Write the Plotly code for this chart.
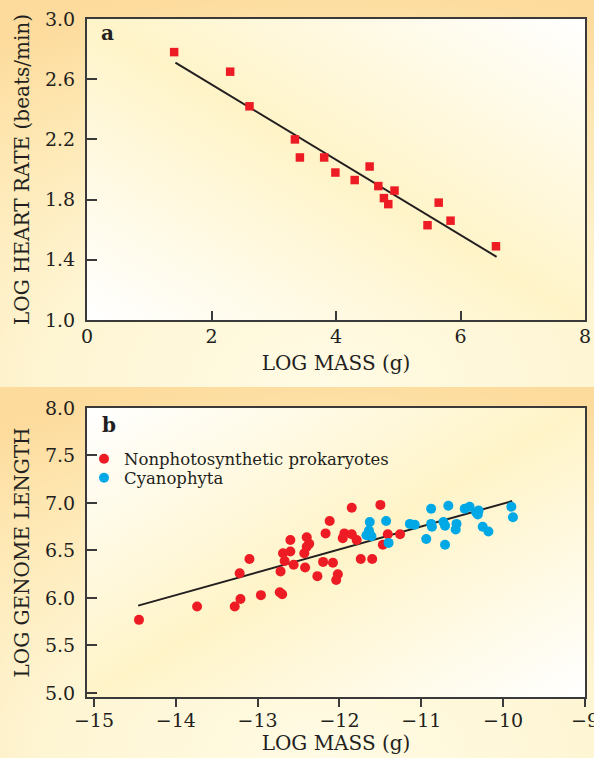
import base64
import plotly.graph_objects as go

# ---------------- Panel a data ----------------
mass_a = [1.40, 2.30, 2.61, 3.34, 3.42, 3.81, 3.99, 4.30, 4.54, 4.68,
          4.77, 4.84, 4.94, 5.47, 5.65, 5.84, 6.57]
heart_rate = [2.78, 2.65, 2.42, 2.20, 2.08, 2.08, 1.98, 1.93, 2.02, 1.89,
              1.81, 1.77, 1.86, 1.63, 1.78, 1.66, 1.49]
fit_a_x = [1.42, 6.58]
fit_a_y = [2.71, 1.42]

# ---------------- Panel b data ----------------
prok_mass = [-14.45, -13.74, -13.28, -13.21, -13.22, -13.10, -12.96, -12.73, -12.70, -12.72,
             -12.67, -12.69, -12.60, -12.60, -12.56, -12.42, -12.43, -12.40, -12.37, -12.40,
             -12.27, -12.20, -12.17, -12.12, -12.08, -12.02, -12.04, -11.96, -11.94, -11.85,
             -11.85, -11.79, -11.74, -11.60, -11.50, -11.47, -11.41, -11.26]
prok_genome = [5.77, 5.91, 5.91, 5.99, 6.26, 6.41, 6.03, 6.06, 6.04, 6.28,
               6.39, 6.47, 6.49, 6.61, 6.35, 6.32, 6.47, 6.54, 6.57, 6.64,
               6.23, 6.38, 6.68, 6.81, 6.37, 6.25, 6.19, 6.63, 6.68, 6.67,
               6.95, 6.61, 6.41, 6.41, 6.98, 6.56, 6.67, 6.67]
cyano_mass = [-11.63, -11.64, -11.63, -11.67, -11.61, -11.43, -11.40, -11.14, -11.08, -10.94,
              -10.88, -10.88, -10.87, -10.71, -10.67, -10.73, -10.71, -10.57, -10.58, -10.47,
              -10.41, -10.33, -10.30, -10.31, -10.25, -10.18, -9.90, -9.88]
cyano_genome = [6.80, 6.71, 6.67, 6.66, 6.65, 6.81, 6.58, 6.78, 6.77, 6.62,
                6.94, 6.78, 6.75, 6.56, 6.97, 6.80, 6.76, 6.78, 6.72, 6.94,
                6.96, 6.90, 6.92, 6.88, 6.75, 6.70, 6.96, 6.85]
fit_b_x = [-14.46, -9.89]
fit_b_y = [5.92, 7.02]

# tick values
ticks_a_x = [0, 2, 4, 6, 8]
ticks_a_y = [1.0, 1.4, 1.8, 2.2, 2.6, 3.0]
ticks_b_x = [-15, -14, -13, -12, -11, -10, -9]
ticks_b_y = [5.0, 5.5, 6.0, 6.5, 7.0, 7.5, 8.0]

RED = "#ed1c24"
BLUE = "#00a9e6"
INK = "#231f20"
AXC = "#3a3a3a"


def svg_uri(svg):
    return "data:image/svg+xml;base64," + base64.b64encode(svg.encode()).decode()


outer_svg = (
    '<svg xmlns="http://www.w3.org/2000/svg" width="100" height="100" viewBox="0 0 100 100" '
    'preserveAspectRatio="none"><defs><radialGradient id="g" cx="0.55" cy="1.0" r="1.05" '
    'gradientUnits="objectBoundingBox">'
    '<stop offset="0" stop-color="#fffbe4"/><stop offset="0.45" stop-color="#fef5d3"/>'
    '<stop offset="0.8" stop-color="#fee6b0"/><stop offset="1" stop-color="#fddb9c"/>'
    '</radialGradient></defs><rect x="0" y="0" width="100" height="100" fill="url(#g)"/></svg>'
)


def band_svg(x1, y1, x2, y2):
    return (
        '<svg xmlns="http://www.w3.org/2000/svg" width="100" height="100" viewBox="0 0 100 100" '
        'preserveAspectRatio="none"><defs><linearGradient id="g" x1="%s" y1="%s" x2="%s" y2="%s">'
        '<stop offset="0" stop-color="#ffffff"/><stop offset="0.5" stop-color="#fff4c8"/>'
        '<stop offset="1" stop-color="#ffffff"/></linearGradient></defs>'
        '<rect x="0" y="0" width="100" height="100" fill="url(#g)"/></svg>' % (x1, y1, x2, y2)
    )


fig = go.Figure()

# Panel a
fig.add_trace(go.Scatter(x=fit_a_x, y=fit_a_y, mode="lines", line=dict(color=INK, width=2),
                         showlegend=False, hoverinfo="skip", xaxis="x", yaxis="y"))
fig.add_trace(go.Scatter(x=mass_a, y=heart_rate, mode="markers",
                         marker=dict(symbol="square", size=8.5, color=RED),
                         showlegend=False, xaxis="x", yaxis="y"))

# Panel b
fig.add_trace(go.Scatter(x=fit_b_x, y=fit_b_y, mode="lines", line=dict(color=INK, width=2),
                         showlegend=False, hoverinfo="skip", xaxis="x2", yaxis="y2"))
fig.add_trace(go.Scatter(x=prok_mass, y=prok_genome, mode="markers",
                         marker=dict(symbol="circle", size=10, color=RED),
                         name="Nonphotosynthetic prokaryotes", legend="legend",
                         xaxis="x2", yaxis="y2"))
fig.add_trace(go.Scatter(x=cyano_mass, y=cyano_genome, mode="markers",
                         marker=dict(symbol="circle", size=10, color=BLUE),
                         name="Cyanophyta", legend="legend2",
                         xaxis="x2", yaxis="y2"))

axis_common = dict(showline=True, linecolor=AXC, linewidth=2, mirror=True,
                   showgrid=False, zeroline=False, tickwidth=2, tickcolor=AXC,
                   automargin=False, ticklabeloverflow="allow",
                   tickfont=dict(size=19, color=INK))

dom_a = [0.556, 1.0]
dom_b = [0.0, 0.4263]

legend_common = dict(xanchor="left", yanchor="middle", bgcolor="rgba(0,0,0,0)",
                     borderwidth=0, tracegroupgap=0, itemwidth=30,
                     font=dict(size=16.5, color=INK))

fig.update_layout(
    width=594, height=758,
    margin=dict(l=87, r=9, t=19, b=61, autoexpand=False),
    paper_bgcolor="#fef3cf",
    plot_bgcolor="rgba(0,0,0,0)",
    font=dict(family="DejaVu Serif", size=19, color=INK),
    xaxis=dict(domain=[0, 1], anchor="y", range=[0, 8], tickvals=ticks_a_x,
               ticks="inside", ticklen=9, ticklabelstandoff=-2,
               title=dict(text="LOG MASS (g)", font=dict(size=20, color=INK), standoff=10),
               **axis_common),
    yaxis=dict(domain=dom_a, anchor="x", range=[1, 3], tickvals=ticks_a_y, tickformat=".1f",
               ticks="inside", ticklen=10, ticklabelstandoff=6,
               title=dict(text="LOG HEART RATE (beats/min)", font=dict(size=20, color=INK), standoff=10),
               **axis_common),
    xaxis2=dict(domain=[0, 1], anchor="y2", range=[-15.085, -9], tickvals=ticks_b_x,
                ticks="outside", ticklen=8, ticklabelstandoff=-3,
                title=dict(text="LOG MASS (g)", font=dict(size=20, color=INK), standoff=6),
                **axis_common),
    yaxis2=dict(domain=dom_b, anchor="x2", range=[4.958, 8.0], tickvals=ticks_b_y, tickformat=".1f",
                ticks="inside", ticklen=10, ticklabelstandoff=6,
                title=dict(text="LOG GENOME LENGTH", font=dict(size=20, color=INK), standoff=10),
                **axis_common),
    showlegend=True,
    legend=dict(x=-0.006, y=(697 - 459) / 678, **legend_common),
    legend2=dict(x=-0.006, y=(697 - 478) / 678, **legend_common),
    images=[
        dict(source=svg_uri(outer_svg), xref="paper", yref="paper",
             x=-87 / 498, y=697 / 678, sizex=594 / 498, sizey=387 / 678,
             xanchor="left", yanchor="top", sizing="stretch", layer="below"),
        dict(source=svg_uri(outer_svg), xref="paper", yref="paper",
             x=-87 / 498, y=(697 - 387) / 678, sizex=594 / 498, sizey=371 / 678,
             xanchor="left", yanchor="top", sizing="stretch", layer="below"),
        dict(source=svg_uri(band_svg(0, 1, 1, 0)), xref="paper", yref="paper",
             x=0, y=dom_a[1], sizex=1, sizey=dom_a[1] - dom_a[0],
             xanchor="left", yanchor="top", sizing="stretch", layer="below"),
        dict(source=svg_uri(band_svg(0, 0, 1, 1)), xref="paper", yref="paper",
             x=0, y=dom_b[1], sizex=1, sizey=dom_b[1] - dom_b[0],
             xanchor="left", yanchor="top", sizing="stretch", layer="below"),
    ],
    annotations=[
        dict(text="<b>a</b>", xref="x domain", yref="y domain", x=0.042, y=0.952,
             xanchor="center", yanchor="middle", showarrow=False,
             font=dict(size=20, color=INK)),
        dict(text="<b>b</b>", xref="x2 domain", yref="y2 domain", x=0.045, y=0.94,
             xanchor="center", yanchor="middle", showarrow=False,
             font=dict(size=20, color=INK)),
    ],
)

fig.write_html("out.html", config={"displayModeBar": False},
               post_script="document.body.style.margin='0';document.body.style.overflow='hidden';")
